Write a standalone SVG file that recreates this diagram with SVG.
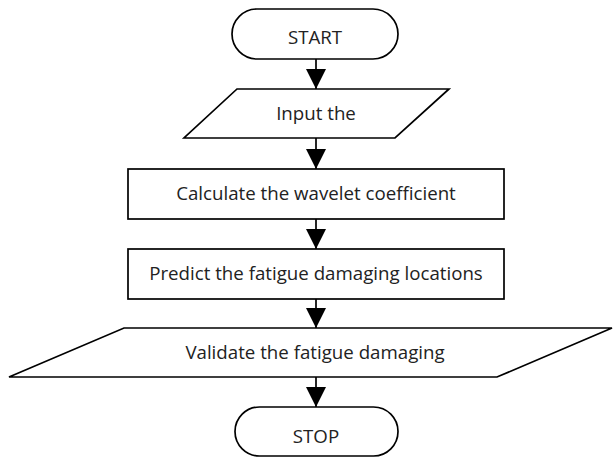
<svg xmlns="http://www.w3.org/2000/svg" width="613" height="457" viewBox="0 0 613 457">
<style>
.s{fill:#fff;stroke:#000;stroke-width:1.7}
.t{font-family:"Open Sans","Liberation Sans",sans-serif;font-size:18.7px;fill:#222;text-anchor:middle}
.c{stroke:#000;stroke-width:1.7;fill:none}
</style>
<defs>
<marker id="ah" markerWidth="20" markerHeight="20" viewBox="0 0 20 20" refX="20" refY="10" orient="auto" markerUnits="userSpaceOnUse">
<path d="M0,0 L20,10 L0,20 Z" fill="#000"/>
</marker>
</defs>
<rect width="613" height="457" fill="#fff"/>
<g id="connectors">
<line class="c" x1="316" y1="59" x2="316" y2="89" marker-end="url(#ah)"/>
<line class="c" x1="316" y1="138" x2="316" y2="169" marker-end="url(#ah)"/>
<line class="c" x1="316" y1="219" x2="316" y2="249" marker-end="url(#ah)"/>
<line class="c" x1="316" y1="299" x2="316" y2="328" marker-end="url(#ah)"/>
<line class="c" x1="316" y1="377" x2="316" y2="407" marker-end="url(#ah)"/>
</g>
<g id="start">
<rect class="s" x="232" y="9" width="166" height="50" rx="25" ry="25"/>
<text class="t" x="315" y="44">START</text>
</g>
<g id="input">
<polygon class="s" points="237,89 449,89 395,138 184,138"/>
<text class="t" x="316" y="120">Input the</text>
</g>
<g id="calculate">
<rect class="s" x="128" y="169" width="376" height="50"/>
<text class="t" x="316" y="200">Calculate the wavelet coefficient</text>
</g>
<g id="predict">
<rect class="s" x="128" y="249" width="376" height="50"/>
<text class="t" x="316" y="280">Predict the fatigue damaging locations</text>
</g>
<g id="validate">
<polygon class="s" points="124,328 612,328 497,377 9,377"/>
<text class="t" x="315" y="359">Validate the fatigue damaging</text>
</g>
<g id="stop">
<rect class="s" x="235" y="407" width="163" height="49" rx="24.5" ry="24.5"/>
<text class="t" x="316" y="443">STOP</text>
</g>
</svg>
